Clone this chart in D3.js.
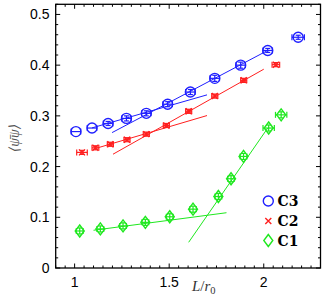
<!DOCTYPE html>
<html><head><meta charset="utf-8">
<script src="https://cdn.jsdelivr.net/npm/d3@7"></script>
<style>html,body{margin:0;padding:0;background:#fff;}svg{display:block;}</style>
</head><body>
<script>
// ---- data ----
const c3X = [1.007, 1.092, 1.177, 1.274, 1.379, 1.492, 1.612, 1.741, 1.878, 2.021, 2.182];
const c3Y = [0.269, 0.276, 0.285, 0.295, 0.305, 0.323, 0.347, 0.374, 0.400, 0.429, 0.455];
const c3Xerr = [0.025, 0.025, 0.025, 0.025, 0.025, 0.025, 0.025, 0.025, 0.025, 0.025, 0.033];
const c3Yerr = [0, 0, 0.004, 0.005, 0.005, 0.005, 0.005, 0.006, 0.006, 0.004, 0.004];

const c2X = [1.039, 1.110, 1.189, 1.277, 1.379, 1.485, 1.603, 1.741, 1.894, 2.064];
const c2Y = [0.228, 0.237, 0.244, 0.253, 0.264, 0.281, 0.309, 0.339, 0.370, 0.401];
const c2Xerr = [0.028, 0.018, 0.016, 0.016, 0.016, 0.016, 0.016, 0.016, 0.016, 0.02];
const c2Yerr = [0.004, 0.004, 0.004, 0.004, 0.004, 0.004, 0.004, 0.004, 0.004, 0.004];

const c1X = [1.027, 1.136, 1.256, 1.374, 1.503, 1.626, 1.760, 1.827, 1.893, 2.026, 2.092];
const c1Y = [0.073, 0.077, 0.083, 0.090, 0.101, 0.116, 0.141, 0.176, 0.220, 0.276, 0.302];
const c1Xerr = [0.018, 0.018, 0.018, 0.018, 0.018, 0.018, 0.018, 0.018, 0.018, 0.03, 0.03];
const c1Yerr = [0.006, 0.006, 0.006, 0.006, 0.006, 0.006, 0.006, 0.006, 0.006, 0.006, 0.006];

// fit lines: [x0, y0, x1, y1]
const c3Fits = [[1.092, 0.2763, 1.700, 0.3414], [1.198, 0.267, 2.021, 0.429]];
const c2Fits = [[1.115, 0.2362, 1.700, 0.3006], [1.203, 0.2244, 2.000, 0.392]];
const c1Fits = [[1.100, 0.0744, 1.803, 0.109], [1.603, 0.0507, 2.021, 0.276]];

const xTicks = [1, 1.5, 2];
const xTickLabels = ["1", "1.5", "2"];
const yTicks = [0, 0.1, 0.2, 0.3, 0.4, 0.5];
const yTickLabels = ["0", "0.1", "0.2", "0.3", "0.4", "0.5"];
const legendLabels = ["C3", "C2", "C1"];

// ---- layout ----
const W = 332, H = 301;
const L = 55.7, R = 320.5, T = 4.3, B = 268;
const x = d3.scaleLinear().domain([0.9, 2.3]).range([L, R]);
const y = d3.scaleLinear().domain([0, 0.52]).range([B, T]);

const BLUE = "#1f1fff", RED = "#ff1f1f", GREEN = "#1fe81f";

const svg = d3.select("body").append("svg").attr("width", W).attr("height", H);

// frame
svg.append("rect").attr("x", L).attr("y", T).attr("width", R - L).attr("height", B - T)
  .attr("fill", "none").attr("stroke", "#000").attr("stroke-width", 1.3);

// ticks (inward on all sides)
const xMinor = d3.range(0.9, 2.3001, 0.05).map(v => +v.toFixed(2));
const yMinor = d3.range(0, 0.5201, 0.02).map(v => +v.toFixed(2));
const tk = svg.append("g").attr("stroke", "#000").attr("stroke-width", 1);
xMinor.forEach(v => {
  const major = xTicks.some(t => Math.abs(t - v) < 1e-6);
  const len = major ? 4.5 : 2.5;
  tk.append("line").attr("x1", x(v)).attr("x2", x(v)).attr("y1", B).attr("y2", B - len);
  tk.append("line").attr("x1", x(v)).attr("x2", x(v)).attr("y1", T).attr("y2", T + len);
});
yMinor.forEach(v => {
  const major = yTicks.some(t => Math.abs(t - v) < 1e-6);
  const len = major ? 4.5 : 2.5;
  tk.append("line").attr("y1", y(v)).attr("y2", y(v)).attr("x1", L).attr("x2", L + len);
  tk.append("line").attr("y1", y(v)).attr("y2", y(v)).attr("x1", R).attr("x2", R - len);
});

// tick labels
const lab = svg.append("g").attr("font-family", "Liberation Sans, Arial, sans-serif").attr("font-size", 14).attr("fill", "#000");
xTicks.forEach((v, i) => lab.append("text").attr("x", x(v)).attr("y", 287).attr("text-anchor", "middle").text(xTickLabels[i]));
yTicks.forEach((v, i) => lab.append("text").attr("x", 49.5).attr("y", y(v)).attr("dy", "0.36em").attr("text-anchor", "end").text(yTickLabels[i]));

// axis titles
const xt = svg.append("text").attr("x", 192).attr("y", 291)
  .attr("font-family", "Liberation Serif, DejaVu Serif, serif").attr("font-size", 15).attr("font-style", "italic").attr("fill", "#333");
xt.append("tspan").text("L");
xt.append("tspan").attr("font-style", "normal").text("/");
xt.append("tspan").text("r");
xt.append("tspan").attr("font-size", 10.5).attr("dy", 3).attr("font-style", "normal").text("0");

svg.append("text").attr("transform", "translate(19,138) rotate(-90)").attr("text-anchor", "middle")
  .attr("font-family", "Liberation Serif, DejaVu Serif, serif").attr("font-size", 14).attr("font-style", "italic").attr("fill", "#555")
  .text("\u27E8\u03C8\u0304\u03C8\u27E9");

// fit lines
function drawFits(fits, color) {
  svg.append("g").selectAll("line").data(fits).join("line")
    .attr("x1", d => x(d[0])).attr("y1", d => y(d[1]))
    .attr("x2", d => x(d[2])).attr("y2", d => y(d[3]))
    .attr("stroke", color).attr("stroke-width", 1);
}
drawFits(c3Fits, BLUE);
drawFits(c2Fits, RED);
drawFits(c1Fits, GREEN);

// error bars
function drawErr(xs, ys, xe, ye, color) {
  const g = svg.append("g").attr("stroke", color).attr("stroke-width", 1.2).attr("fill", "none");
  xs.forEach((xv, i) => {
    const px = x(xv), py = y(ys[i]);
    const x0 = x(xv - xe[i]), x1 = x(xv + xe[i]);
    g.append("line").attr("x1", x0).attr("x2", x1).attr("y1", py).attr("y2", py);
    g.append("line").attr("x1", x0).attr("x2", x0).attr("y1", py - 3).attr("y2", py + 3);
    g.append("line").attr("x1", x1).attr("x2", x1).attr("y1", py - 3).attr("y2", py + 3);
    if (ye[i] > 0) {
      const y0 = y(ys[i] - ye[i]), y1 = y(ys[i] + ye[i]);
      g.append("line").attr("x1", px).attr("x2", px).attr("y1", y0).attr("y2", y1);
      g.append("line").attr("x1", px - 2.5).attr("x2", px + 2.5).attr("y1", y0).attr("y2", y0);
      g.append("line").attr("x1", px - 2.5).attr("x2", px + 2.5).attr("y1", y1).attr("y2", y1);
    }
  });
}
drawErr(c3X, c3Y, c3Xerr, c3Yerr, BLUE);
drawErr(c2X, c2Y, c2Xerr, c2Yerr, RED);
drawErr(c1X, c1Y, c1Xerr, c1Yerr, GREEN);

// markers
function circle(g, px, py) {
  g.append("circle").attr("cx", px).attr("cy", py).attr("r", 5);
}
function cross(g, px, py) {
  g.append("path").attr("d", `M${px-3},${py-3}L${px+3},${py+3}M${px-3},${py+3}L${px+3},${py-3}`);
}
function diamond(g, px, py) {
  g.append("path").attr("d", `M${px},${py-6}L${px+4.5},${py}L${px},${py+6}L${px-4.5},${py}Z`);
}
function drawMarkers(xs, ys, color, fn) {
  const g = svg.append("g").attr("stroke", color).attr("stroke-width", 1.4).attr("fill", "none");
  xs.forEach((xv, i) => fn(g, x(xv), y(ys[i])));
}
drawMarkers(c3X, c3Y, BLUE, circle);
drawMarkers(c2X, c2Y, RED, cross);
drawMarkers(c1X, c1Y, GREEN, diamond);

// legend
const legColors = [BLUE, RED, GREEN];
const legFns = [circle, cross, diamond];
const legY = [201, 221, 240.5];
legendLabels.forEach((t, i) => {
  const g = svg.append("g").attr("stroke", legColors[i]).attr("stroke-width", 1.4).attr("fill", "none");
  legFns[i](g, 268.3, legY[i]);
  svg.append("text").attr("x", 277.5).attr("y", legY[i] + 5)
    .attr("font-family", "DejaVu Serif, Liberation Serif, serif").attr("font-weight", "bold")
    .attr("font-size", 14).attr("fill", "#000").text(t);
});
</script>
</body></html>
